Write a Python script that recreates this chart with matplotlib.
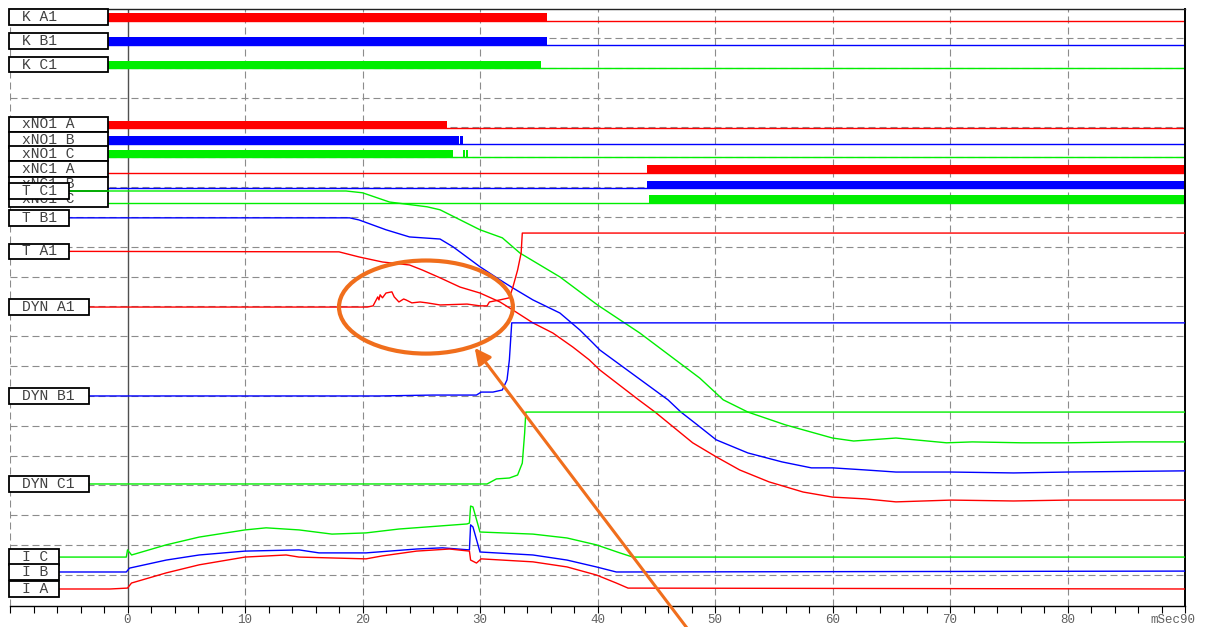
import matplotlib.pyplot as plt
from matplotlib.patches import Rectangle, Ellipse
import numpy as np

RED, BLUE, GREEN = "#ff0000", "#0000ff", "#00ee00"

# digital channels (baseline in grid divisions, pickup intervals in ms)
dig_names = ["K A1", "K B1", "K C1", "xNO1 A", "xNO1 B", "xNO1 C", "xNC1 A", "xNC1 B", "xNC1 C"]
dig_colors = [RED, BLUE, GREEN, RED, BLUE, GREEN, RED, BLUE, GREEN]
dig_base = [18.57, 17.77, 16.98, 14.98, 14.45, 14.0, 13.48, 12.97, 12.47]
dig_on = [
    [(-10, 35.7)],
    [(-10, 35.7)],
    [(-10, 35.2)],
    [(-10, 27.2)],
    [(-10, 28.18), (28.3, 28.55)],
    [(-10, 27.67), (28.55, 28.75), (28.83, 28.97)],
    [(44.2, 90)],
    [(44.2, 90)],
    [(44.35, 90)],
]

# analog channels (time in ms, value in grid divisions)
t_tc1 = [-10, 18.6, 20.0, 22.3, 25.5, 26.6, 30.0, 31.9, 33.4, 36.8, 40.0, 43.6, 48.7, 50.7, 52.8,
         56.0, 60.0, 61.8, 65.4, 69.7, 71.9, 76.1, 80.0, 85.5, 90]
v_tc1 = [12.87, 12.87, 12.81, 12.50, 12.34, 12.24, 11.57, 11.30, 10.79, 9.99, 9.05, 8.11, 6.60, 5.87, 5.46,
         5.03, 4.59, 4.49, 4.59, 4.43, 4.46, 4.43, 4.43, 4.46, 4.46]

t_tb1 = [-10, 18.9, 19.7, 22.0, 24.0, 26.6, 27.7, 30.0, 31.7, 32.8, 34.5, 36.8, 38.5, 39.6, 40.2, 46.0,
         47.1, 48.5, 50.1, 52.8, 55.7, 58.2, 60.0, 62.8, 65.4, 70.1, 75.4, 80.0, 90]
v_tb1 = [11.97, 11.97, 11.90, 11.57, 11.33, 11.26, 11.00, 10.33, 9.89, 9.62, 9.22, 8.78, 8.21, 7.78, 7.54, 5.87,
         5.46, 5.03, 4.53, 4.09, 3.79, 3.59, 3.59, 3.52, 3.45, 3.45, 3.42, 3.45, 3.49]

t_ta1 = [-10, 18.0, 19.7, 21.7, 24.0, 25.1, 26.6, 28.3, 30.0, 31.7, 32.8, 34.5, 36.2, 37.9, 39.3, 40.2,
         43.5, 44.9, 48.1, 50.1, 52.1, 54.6, 57.5, 60.0, 62.8, 65.4, 70.1, 75.4, 80.0, 90]
v_ta1 = [10.85, 10.83, 10.66, 10.49, 10.39, 10.22, 9.96, 9.65, 9.45, 9.15, 8.88, 8.45, 8.11, 7.64, 7.21, 6.87,
         5.87, 5.46, 4.43, 3.96, 3.52, 3.12, 2.78, 2.61, 2.55, 2.45, 2.51, 2.48, 2.51, 2.51]

t_dyna = [-10, 20.4, 20.9, 21.3, 21.4, 21.5, 21.7, 22.0, 22.5, 22.7, 23.1, 23.5, 23.7, 24.2, 24.9, 25.5,
          26.6, 28.9, 30.0, 30.6, 30.8, 31.7, 32.5, 32.8, 33.2, 33.5, 33.6, 90]
v_dyna = [8.98, 8.98, 9.02, 9.32, 9.22, 9.39, 9.29, 9.45, 9.49, 9.32, 9.15, 9.25, 9.22, 9.12, 9.15, 9.12,
          9.05, 9.08, 9.02, 9.02, 9.15, 9.22, 9.29, 9.65, 10.22, 10.79, 11.46, 11.46]

t_dynb = [-10, 21.4, 26.0, 29.7, 30.1, 31.1, 31.9, 32.3, 32.5, 32.7, 90]
v_dynb = [6.0, 6.0, 6.03, 6.03, 6.13, 6.13, 6.20, 6.54, 7.21, 8.45, 8.45]

t_dync = [-10, 30.6, 31.4, 32.5, 33.2, 33.6, 33.8, 33.9, 90]
v_dync = [3.05, 3.05, 3.22, 3.25, 3.35, 3.75, 4.76, 5.46, 5.46]

t_ic = [-10, -0.1, 0.0, 0.35, 3.3, 6.1, 10.0, 11.8, 14.6, 17.4, 20.3, 23.1, 28.9, 29.1, 29.2, 29.4,
        30.0, 34.5, 37.4, 39.9, 41.9, 43.0, 90]
v_ic = [0.60, 0.60, 0.84, 0.67, 1.01, 1.27, 1.51, 1.58, 1.51, 1.37, 1.41, 1.54, 1.71, 1.74, 2.31, 2.28,
        1.44, 1.37, 1.24, 1.01, 0.74, 0.60, 0.60]

t_ib = [-10, -0.1, 0.17, 3.3, 6.1, 10.0, 14.6, 16.3, 20.3, 24.6, 26.8, 29.1, 29.2, 29.4, 30.0, 34.5,
        37.4, 39.9, 41.6, 90]
v_ib = [0.10, 0.10, 0.23, 0.50, 0.67, 0.80, 0.84, 0.74, 0.74, 0.87, 0.91, 0.84, 1.68, 1.61, 0.77, 0.67,
        0.50, 0.27, 0.10, 0.13]

t_ia = [-10, -1.5, 0.0, 0.34, 3.3, 6.1, 10.0, 13.5, 14.6, 17.4, 20.3, 21.7, 24.6, 27.4, 29.1, 29.2,
        29.7, 30.1, 34.5, 37.4, 39.9, 41.6, 42.6, 90]
v_ia = [-0.47, -0.47, -0.44, -0.27, 0.07, 0.34, 0.60, 0.67, 0.60, 0.57, 0.54, 0.64, 0.80, 0.87, 0.80, 0.50,
        0.40, 0.54, 0.44, 0.27, 0.0, -0.27, -0.44, -0.47]

ana_names = ["T C1", "T B1", "T A1", "DYN A1", "DYN B1", "DYN C1", "I C", "I B", "I A"]
ana_colors = [GREEN, BLUE, RED, RED, BLUE, GREEN, GREEN, BLUE, RED]
ana_t = [t_tc1, t_tb1, t_ta1, t_dyna, t_dynb, t_dync, t_ic, t_ib, t_ia]
ana_v = [v_tc1, v_tb1, v_ta1, v_dyna, v_dynb, v_dync, v_ic, v_ib, v_ia]
# label box right edge (ms) for each analog group
ana_box_right = [-4.94, -4.94, -4.94, -3.24, -3.24, -3.24, -5.79, -5.79, -5.79]

x_ticks = np.arange(-10, 91, 2)
x_labels = [str(t) if (t % 10 == 0 and 0 <= t <= 80) else "" for t in x_ticks]

MONO = "Liberation Mono"
GRID = "#8c8c8c"
ORANGE = "#f06e1c"

fig = plt.figure(figsize=(12.1, 6.27), dpi=100)
ax = fig.add_axes([10 / 1210, 21 / 627, 1175 / 1210, 597 / 627])
ax.set_xlim(-10, 90)
ax.set_ylim(-1.04, 18.97)

# grid
dash = (0, (6.3, 3.6))
for k in range(19):
    ax.axhline(k, color=GRID, lw=0.8, ls=dash, zorder=1)
for t in range(10, 90, 10):
    ax.axvline(t, color=GRID, lw=0.8, ls=dash, zorder=1)
ax.axvline(-10, color=GRID, lw=0.8, ls=dash, zorder=1)
ax.axvline(0, color="#505050", lw=1.0, zorder=1.5)

box_h = 0.52
bar_h = 0.25

# digital channels
for name, col, base, on in zip(dig_names, dig_colors, dig_base, dig_on):
    ax.plot([-10, 90], [base, base], color=col, lw=1.0, zorder=2)
    for a, b in on:
        ax.fill_between([a, b], base, base + bar_h, color=col, lw=0, zorder=2)
    yc = base + bar_h / 2
    ax.add_patch(Rectangle((-10.1, yc - box_h / 2), 8.4, box_h, facecolor="white",
                           edgecolor="black", lw=1.3, zorder=3, clip_on=False))
    ax.text(-9.0, yc, name, family=MONO, fontsize=10.5, color="#404040",
            va="center", ha="left", zorder=3.5)

# analog channels
for name, col, tt, vv, right in zip(ana_names, ana_colors, ana_t, ana_v, ana_box_right):
    ax.plot(tt, vv, color=col, lw=1.0, zorder=4)
    yc = vv[0]
    ax.add_patch(Rectangle((-10.1, yc - box_h / 2), right + 10.1, box_h, facecolor="white",
                           edgecolor="black", lw=1.3, zorder=5, clip_on=False))
    ax.text(-9.0, yc, name, family=MONO, fontsize=10.5, color="#404040",
            va="center", ha="left", zorder=5.5)

# frame
ax.spines["left"].set_visible(False)
ax.spines["top"].set_color("#222222")
ax.spines["top"].set_linewidth(1.0)
ax.spines["right"].set_color("black")
ax.spines["right"].set_linewidth(1.4)
ax.spines["bottom"].set_color("black")
ax.spines["bottom"].set_linewidth(1.0)

ax.set_yticks([])
ax.set_xticks(x_ticks)
ax.set_xticklabels(x_labels, family=MONO, fontsize=9, color="#606060")
ax.tick_params(axis="x", direction="out", length=5, width=0.8, color="black", pad=0.5)
ax.text(90.9, -1.51, "mSec90", family=MONO, fontsize=9,
        color="#606060", ha="right", va="center", clip_on=False)

# annotation
ax.add_patch(Ellipse((25.4, 8.98), 14.8, 3.12, fill=False, edgecolor=ORANGE, lw=3.0,
                     zorder=10))
ax.annotate("", xy=(29.55, 7.61), xytext=(47.85, -1.9),
            arrowprops=dict(arrowstyle="-|>", color=ORANGE, lw=2.2, mutation_scale=24,
                            shrinkA=0, shrinkB=0),
            annotation_clip=False, zorder=10)

fig.savefig("out.png", dpi=100)
